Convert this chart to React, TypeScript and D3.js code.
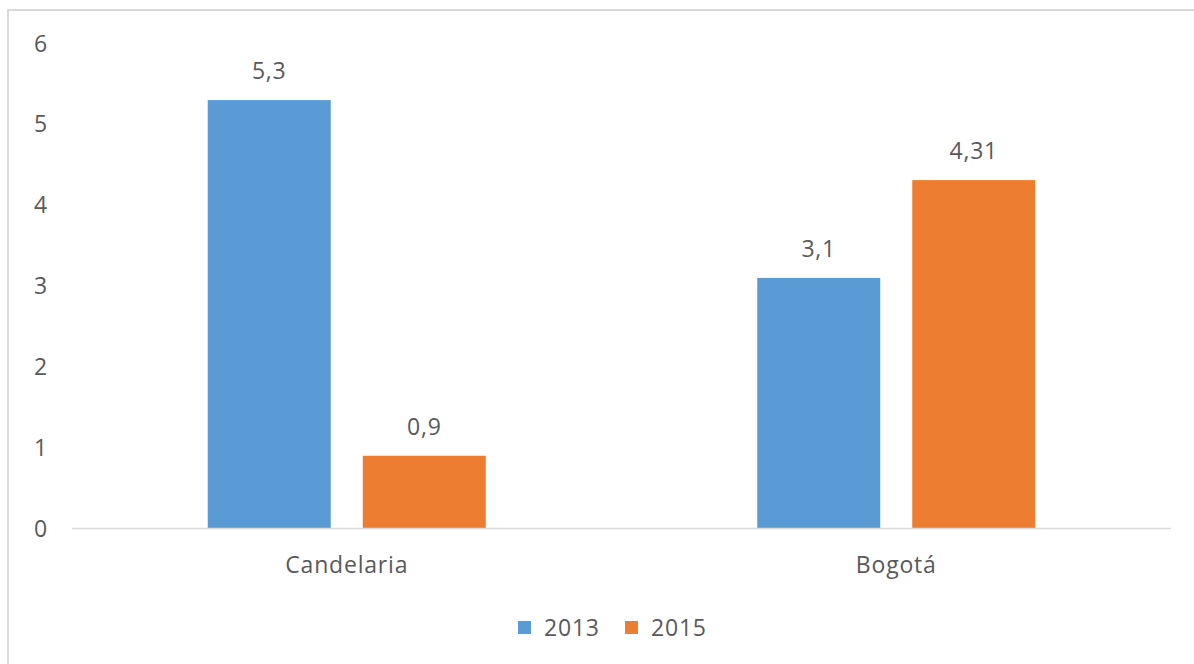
import React from "react";
import * as d3 from "d3";

const WIDTH = 1194;
const HEIGHT = 664;

const categories = ["Candelaria", "Bogotá"];
const seriesNames = ["2013", "2015"];
const values2013 = [5.3, 3.1];
const values2015 = [0.9, 4.31];
const yTicks = [0, 1, 2, 3, 4, 5, 6];
const colors = ["#5b9bd5", "#ed7d31"];

const FONT = "'Open Sans', 'Noto Sans', sans-serif";
const TEXT = "#595959";
const FS = 23;
const LS = 0.8;

const plot = { left: 72, right: 1171, top: 43.5, bottom: 528.5 };

function fmt(v: number) {
  return String(v).replace(".", ",");
}

export default function App() {
  const y = d3.scaleLinear().domain([0, 6]).range([plot.bottom, plot.top]);
  const x0 = d3
    .scaleBand<string>()
    .domain(categories)
    .range([plot.left, plot.right])
    .paddingInner(0.494)
    .paddingOuter(0.247);
  const x1 = d3
    .scaleBand<string>()
    .domain(seriesNames)
    .range([0, x0.bandwidth()])
    .paddingInner(0.2065)
    .paddingOuter(0);

  const series = [values2013, values2015];

  return (
    <svg
      width={WIDTH}
      height={HEIGHT}
      style={{ display: "block", position: "absolute", left: 0, top: 0 }}
    >
      <rect x={0} y={0} width={WIDTH} height={HEIGHT} fill="#fff" />
      {/* chart frame, cropped on the right and bottom */}
      <rect
        x={8}
        y={10}
        width={WIDTH + 20}
        height={HEIGHT + 20}
        fill="none"
        stroke="#d9d9d9"
        strokeWidth={2}
      />

      {yTicks.map((t) => (
        <text
          key={t}
          x={48}
          y={y(t)}
          dy="0.35em"
          textAnchor="end"
          fontFamily={FONT}
          fontSize={FS}
          letterSpacing={LS}
          fill={TEXT}
        >
          {t}
        </text>
      ))}

      {categories.map((c, ci) => (
        <g key={c} transform={`translate(${x0(c)},0)`}>
          {seriesNames.map((s, si) => {
            const v = series[si][ci];
            const bx = x1(s) as number;
            return (
              <g key={s}>
                <rect
                  x={bx}
                  y={y(v)}
                  width={x1.bandwidth()}
                  height={y(0) - y(v)}
                  fill={colors[si]}
                />
                <text
                  x={bx + x1.bandwidth() / 2}
                  y={y(v) - 21}
                  textAnchor="middle"
                  fontFamily={FONT}
                  fontSize={FS}
                  letterSpacing={LS}
                  fill={TEXT}
                >
                  {fmt(v)}
                </text>
              </g>
            );
          })}
          <text
            x={x0.bandwidth() / 2}
            y={573}
            textAnchor="middle"
            fontFamily={FONT}
            fontSize={FS}
            letterSpacing={LS}
            fill={TEXT}
          >
            {c}
          </text>
        </g>
      ))}

      <line
        x1={plot.left}
        x2={plot.right}
        y1={y(0)}
        y2={y(0)}
        stroke="#d9d9d9"
        strokeWidth={1.5}
      />

      {seriesNames.map((s, si) => {
        const lx = 518 + si * 107;
        return (
          <g key={s}>
            <rect x={lx} y={621} width={13} height={13} fill={colors[si]} />
            <text
              x={lx + 26}
              y={627.5}
              dy="0.35em"
              fontFamily={FONT}
              fontSize={FS}
              letterSpacing={LS}
              fill={TEXT}
            >
              {s}
            </text>
          </g>
        );
      })}
    </svg>
  );
}
